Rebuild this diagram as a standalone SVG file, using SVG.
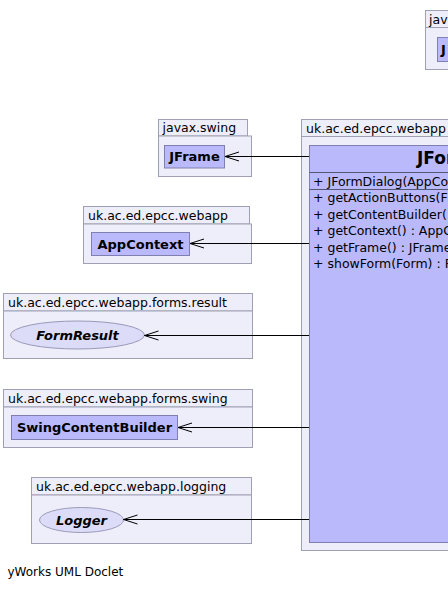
<svg xmlns="http://www.w3.org/2000/svg" width="448" height="589" viewBox="0 0 448 589">
<style>
.pkg{fill:#eeeefb;stroke:#a0a0b4;stroke-width:1}
.cls{fill:#b9b9fc;stroke:#8080b0;stroke-width:1}
.itf{fill:#dcdcf8;stroke:#9a9ab8;stroke-width:1}
.sep{stroke:#555577;stroke-width:1}
.plbl{font-family:"DejaVu Sans",sans-serif;font-size:12.5px;fill:#000}
.cname{font-family:"DejaVu Sans",sans-serif;font-size:13px;font-weight:bold;fill:#000;text-anchor:middle}
.iname{font-family:"DejaVu Sans",sans-serif;font-size:13px;font-weight:bold;font-style:italic;fill:#000;text-anchor:middle}
.mem{font-family:"DejaVu Sans",sans-serif;font-size:12.5px;fill:#000}
.title{font-family:"DejaVu Sans",sans-serif;font-size:17px;font-weight:bold;fill:#000}
.edge{stroke:#000;stroke-width:1;fill:none}
.foot{font-family:"DejaVu Sans",sans-serif;font-size:12px;fill:#000}
</style>
<defs>
<marker id="open" markerWidth="16" markerHeight="12" refX="15" refY="6" orient="auto" markerUnits="userSpaceOnUse">
<path d="M1,1.5 L15,6 L1,10.5" fill="none" stroke="#000" stroke-width="1"/>
</marker>
</defs>

<g id="pkg-topright">
<rect class="pkg" x="425.5" y="10.5" width="60" height="17"/>
<rect class="pkg" x="425.5" y="27.5" width="60" height="42"/>
<text class="plbl" x="429" y="24">javax.swing</text>
<rect class="cls" x="437.5" y="37.5" width="50" height="24"/>
<text class="title" style="font-size:13px" x="441" y="54">J</text>
</g>

<g id="pkg-javax-swing">
<rect class="pkg" x="158.5" y="119.5" width="89" height="16.5"/>
<rect class="pkg" x="158.5" y="136" width="93" height="40.5"/>
<text class="plbl" x="162.5" y="132">javax.swing</text>
<g id="JFrame">
<rect class="cls" x="164.5" y="145.5" width="60" height="22.5"/>
<text class="cname" x="194.5" y="161">JFrame</text>
</g>
</g>

<g id="pkg-webapp">
<rect class="pkg" x="83.5" y="206.5" width="166" height="17.5"/>
<rect class="pkg" x="83.5" y="224" width="168" height="39.5"/>
<text class="plbl" x="88" y="219.5">uk.ac.ed.epcc.webapp</text>
<g id="AppContext">
<rect class="cls" x="91.5" y="232.5" width="98" height="23"/>
<text class="cname" x="140.5" y="248.5">AppContext</text>
</g>
</g>

<g id="pkg-forms-result">
<rect class="pkg" x="3.5" y="293.5" width="249" height="17.5"/>
<rect class="pkg" x="3.5" y="311" width="249" height="47.5"/>
<text class="plbl" x="8" y="306.5">uk.ac.ed.epcc.webapp.forms.result</text>
<g id="FormResult">
<ellipse class="itf" cx="77.5" cy="335" rx="67" ry="14"/>
<text class="iname" x="77.5" y="339.5">FormResult</text>
</g>
</g>

<g id="pkg-forms-swing">
<rect class="pkg" x="3.5" y="389.5" width="249" height="17.5"/>
<rect class="pkg" x="3.5" y="407" width="249" height="40.5"/>
<text class="plbl" x="8" y="402.5">uk.ac.ed.epcc.webapp.forms.swing</text>
<g id="SwingContentBuilder">
<rect class="cls" x="11.5" y="415.5" width="166" height="24"/>
<text class="cname" x="94.5" y="432">SwingContentBuilder</text>
</g>
</g>

<g id="pkg-logging">
<rect class="pkg" x="31.5" y="477.5" width="220" height="17.5"/>
<rect class="pkg" x="31.5" y="495" width="220" height="48.5"/>
<text class="plbl" x="36" y="490.5">uk.ac.ed.epcc.webapp.logging</text>
<g id="Logger">
<ellipse class="itf" cx="81.5" cy="520" rx="42" ry="12.5"/>
<text class="iname" x="81.5" y="524.5">Logger</text>
</g>
</g>

<g id="pkg-main">
<rect class="pkg" x="301.5" y="119.5" width="200" height="17"/>
<rect class="pkg" x="301.5" y="136.5" width="200" height="414"/>
<text class="plbl" x="306" y="132.5">uk.ac.ed.epcc.webapp</text>
<g id="JFormDialog">
<rect class="cls" x="309.5" y="145.5" width="200" height="397"/>
<text class="title" x="417" y="164">JForm</text>
<line class="sep" x1="309.5" y1="172.5" x2="509.5" y2="172.5"/>
<text class="mem" x="313" y="185.5">+ JFormDialog(AppCon</text>
<line class="sep" x1="309.5" y1="189.5" x2="509.5" y2="189.5"/>
<text class="mem" x="313" y="202">+ getActionButtons(F</text>
<text class="mem" x="313" y="218.5">+ getContentBuilder(</text>
<text class="mem" x="313" y="235">+ getContext() : AppC</text>
<text class="mem" x="313" y="251.5">+ getFrame() : JFrame</text>
<text class="mem" x="313" y="268">+ showForm(Form) : F</text>
</g>
</g>

<g id="connectors">
<line class="edge" x1="309" y1="156.5" x2="225" y2="156.5" marker-end="url(#open)"/>
<line class="edge" x1="309" y1="243.5" x2="190" y2="243.5" marker-end="url(#open)"/>
<line class="edge" x1="309" y1="335.5" x2="144.5" y2="335.5" marker-end="url(#open)"/>
<line class="edge" x1="309" y1="427.5" x2="178" y2="427.5" marker-end="url(#open)"/>
<line class="edge" x1="309" y1="519.5" x2="123.5" y2="519.5" marker-end="url(#open)"/>
</g>

<text class="foot" x="7.5" y="576">yWorks UML Doclet</text>
</svg>
